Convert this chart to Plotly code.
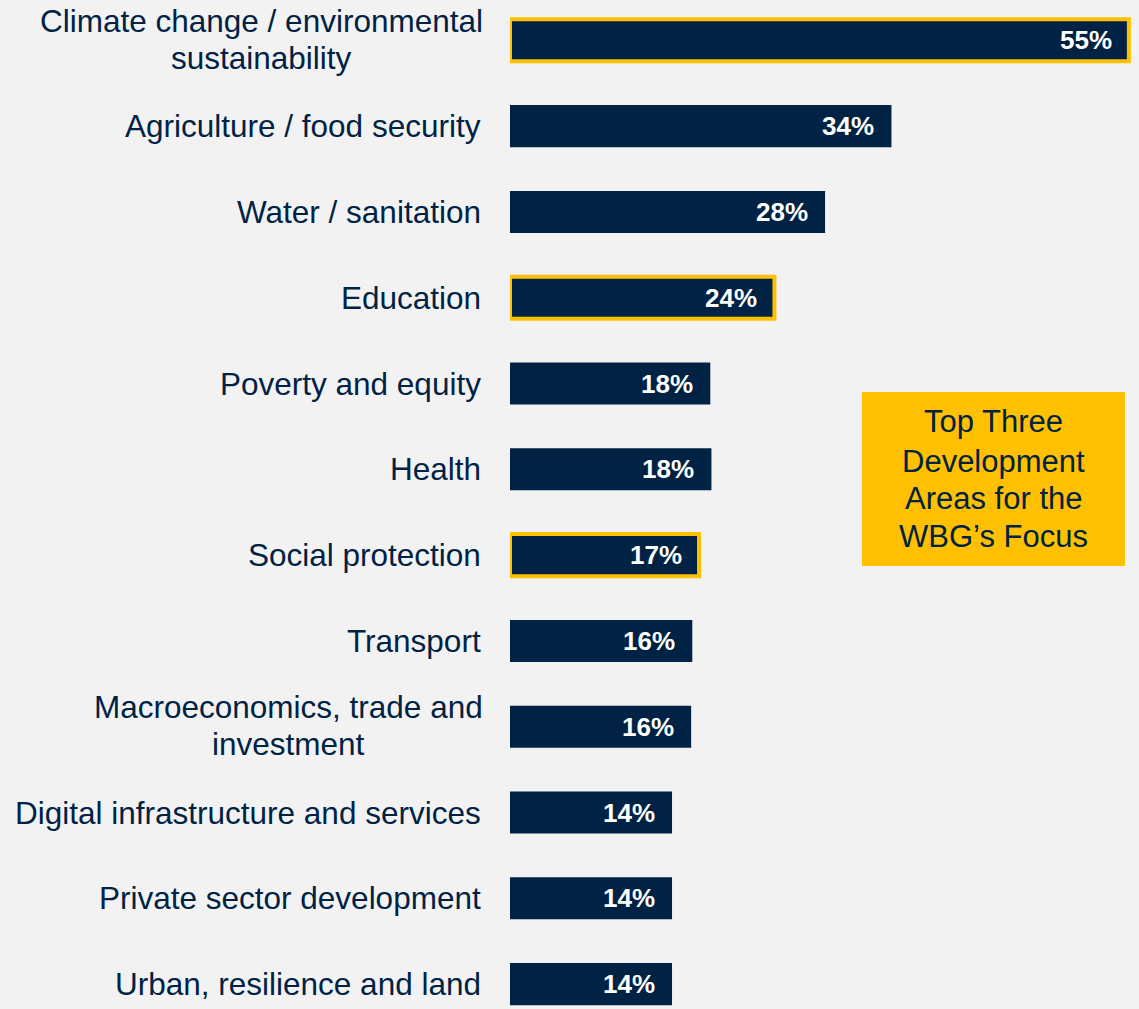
import plotly.graph_objects as go

categories = [
    "Climate change / environmental<br>sustainability",
    "Agriculture / food security",
    "Water / sanitation",
    "Education",
    "Poverty and equity",
    "Health",
    "Social protection",
    "Transport",
    "Macroeconomics, trade and<br>investment",
    "Digital infrastructure and services",
    "Private sector development",
    "Urban, resilience and land",
]
values = [55.0, 33.9, 28.0, 23.5, 17.8, 17.9, 16.8, 16.2, 16.1, 14.4, 14.4, 14.4]
value_labels = ["55%", "34%", "28%", "24%", "18%", "18%", "17%", "16%", "16%", "14%", "14%", "14%"]
top_three = [True, False, False, True, False, False, True, False, False, False, False, False]
box_lines = ["Top Three", "Development", "Areas for the", "WBG\u2019s Focus"]

NAVY = "#002244"
GOLD = "#FFC000"
BG = "#F2F2F2"
FONT = "Liberation Sans, Arial, sans-serif"
LABEL_SIZE = 31.5
LABEL_PAD = 27
LINE_GAP = 37

# Arial / Liberation Sans advance widths (1/1000 em) for measuring label lines
ARIAL_W = {" ": 278, ",": 278, "/": 278, "C": 722, "M": 833, "a": 556, "b": 556,
           "c": 500, "d": 556, "e": 556, "g": 556, "h": 556, "i": 222, "l": 222,
           "m": 833, "n": 556, "o": 556, "r": 333, "s": 500, "t": 278, "u": 556,
           "v": 500, "y": 500}


def text_width(s, size):
    return sum(ARIAL_W.get(ch, 556) for ch in s) / 1000.0 * size


fig = go.Figure()
fig.add_trace(go.Bar(
    x=values,
    y=categories,
    orientation="h",
    width=0.49,
    marker=dict(
        color=NAVY,
        line=dict(color=[GOLD if t else NAVY for t in top_three],
                  width=[4 if t else 0 for t in top_three]),
    ),
    hoverinfo="skip",
))

annotations = []
for cat, v, lab in zip(categories, values, value_labels):
    annotations.append(dict(
        x=v, y=cat, xref="x", yref="y", text=lab, showarrow=False,
        xanchor="right", xshift=-15,
        font=dict(family=FONT, size=26, color="white", weight="bold"),
    ))
    parts = cat.split("<br>")
    n = len(parts)
    block_w = max(text_width(p, LABEL_SIZE) for p in parts)
    for i, p in enumerate(parts):
        if n == 1:
            anchor, xs = "right", -LABEL_PAD
        else:
            anchor, xs = "center", -LABEL_PAD - block_w / 2
        annotations.append(dict(
            x=0, y=cat, xref="paper", yref="y", text=p, showarrow=False,
            xanchor=anchor, xshift=xs,
            yshift=((n - 1) / 2 - i) * LINE_GAP + (1 if n > 1 else 0),
            font=dict(family=FONT, size=LABEL_SIZE, color=NAVY),
        ))

line_ys = [0.5818, 0.5431, 0.5055, 0.4678]
for txt, yy in zip(box_lines, line_ys):
    annotations.append(dict(
        x=0.768, y=yy, xref="paper", yref="paper", text=txt, showarrow=False,
        xanchor="center", yanchor="middle",
        font=dict(family=FONT, size=31, color=NAVY),
    ))

fig.add_shape(type="rect", xref="paper", yref="paper",
              x0=0.5596, x1=0.9777, y0=0.439, y1=0.6115,
              fillcolor=GOLD, line=dict(width=0), layer="below")

fig.update_layout(
    width=1139, height=1009,
    margin=dict(l=510, r=0, t=0, b=0),
    paper_bgcolor=BG, plot_bgcolor=BG,
    showlegend=False,
    annotations=annotations,
    xaxis=dict(range=[0, 55.9], showgrid=False, zeroline=False,
               showticklabels=False, showline=False),
    yaxis=dict(type="category", categoryorder="array", categoryarray=categories,
               range=[11.29, -0.47], showgrid=False, zeroline=False,
               showticklabels=False, showline=False),
)

fig.write_html(
    "out.html",
    config={"displayModeBar": False},
    post_script="document.body.style.margin='0';document.body.style.background='#F2F2F2';",
)
